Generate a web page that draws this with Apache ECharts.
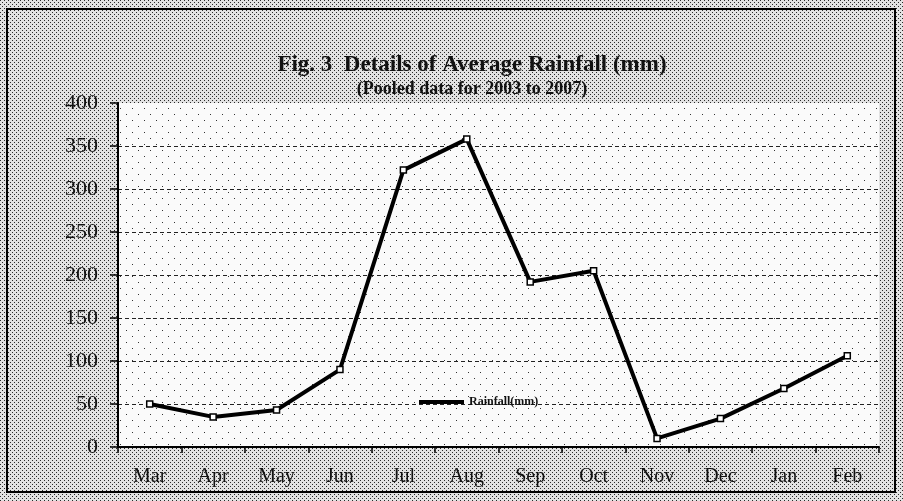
<!DOCTYPE html>
<html><head><meta charset="utf-8">
<script src="https://cdn.jsdelivr.net/npm/echarts@6/dist/echarts.min.js"></script>
<style>html,body{margin:0;padding:0;background:#fff}#c{width:903px;height:501px}</style>
</head><body><div id="c"></div>
<script>
const months = ['Mar','Apr','May','Jun','Jul','Aug','Sep','Oct','Nov','Dec','Jan','Feb'];
const rainfall = [50, 35, 43, 90, 322, 358, 192, 205, 10, 33, 68, 106];
const yTicks = [0, 50, 100, 150, 200, 250, 300, 350, 400];

function makePattern(size, dots, bg, fg) {
  const c = document.createElement('canvas');
  c.width = size; c.height = size;
  const g = c.getContext('2d');
  g.fillStyle = bg; g.fillRect(0, 0, size, size);
  g.fillStyle = fg;
  dots.forEach(d => g.fillRect(d[0], d[1], 1, 1));
  return c;
}
const outerPat = makePattern(4, [[0,0],[2,2]], '#e2e2e2', '#2a2a2a');
const innerPat = makePattern(12, [[0,0],[6,6]], '#fafafa', '#333');

const chart = echarts.init(document.getElementById('c'), null, {renderer: 'canvas'});
const serif = '"Liberation Serif", "DejaVu Serif", serif';
chart.setOption({
  backgroundColor: {image: outerPat, repeat: 'repeat'},
  animation: false,
  title: {
    text: 'Fig. 3  Details of Average Rainfall (mm)',
    subtext: '(Pooled data for 2003 to 2007)',
    left: 467, textAlign: 'center', top: 49, itemGap: 3,
    textStyle: {fontFamily: serif, fontWeight: 'bold', fontSize: 23, color: '#111'},
    subtextStyle: {fontFamily: serif, fontWeight: 'bold', fontSize: 18, color: '#111'}
  },
  legend: {
    left: 414, top: 391, itemWidth: 45, itemHeight: 10,
    itemGap: 2,
    data: [{name: 'Rainfall(mm)', icon: 'path://M0,3 L45,3 L45,7 L0,7 Z', itemStyle: {color: '#000', borderWidth: 0}}],
    textStyle: {fontFamily: serif, fontWeight: 'bold', fontSize: 12, color: '#111', padding: [0,0,0,0]}
  },
  grid: {
    left: 118, right: 24, top: 103, bottom: 54,
    show: true, borderWidth: 0,
    backgroundColor: {image: innerPat, repeat: 'repeat'}
  },
  xAxis: {
    type: 'category', data: months, boundaryGap: true,
    axisLine: {lineStyle: {color: '#000', width: 2}},
    axisTick: {show: true, inside: false, length: 6, lineStyle: {color: '#000', width: 1.5}},
    axisLabel: {fontFamily: serif, fontSize: 20, color: '#111', margin: 20}
  },
  yAxis: {
    type: 'value', min: yTicks[0], max: yTicks[yTicks.length - 1], interval: 50,
    axisLine: {show: true, lineStyle: {color: '#000', width: 2}},
    axisTick: {show: true, length: 8, lineStyle: {color: '#000', width: 1.5}},
    axisLabel: {fontFamily: serif, fontSize: 22, color: '#111', margin: 20},
    splitLine: {show: true, showMaxLine: false, lineStyle: {color: '#222', width: 1, type: [4, 3]}}
  },
  series: [{
    name: 'Rainfall(mm)', type: 'line', data: rainfall,
    symbol: 'rect', symbolSize: 6, showSymbol: true,
    itemStyle: {color: '#fff', borderColor: '#000', borderWidth: 1.5},
    lineStyle: {color: '#000', width: 4},
    emphasis: {disabled: true}
  }],
  graphic: [{
    type: 'rect', shape: {x: 7, y: 9, width: 888, height: 483},
    style: {fill: 'none', stroke: '#000', lineWidth: 2}, silent: true
  }]
});
</script></body></html>
